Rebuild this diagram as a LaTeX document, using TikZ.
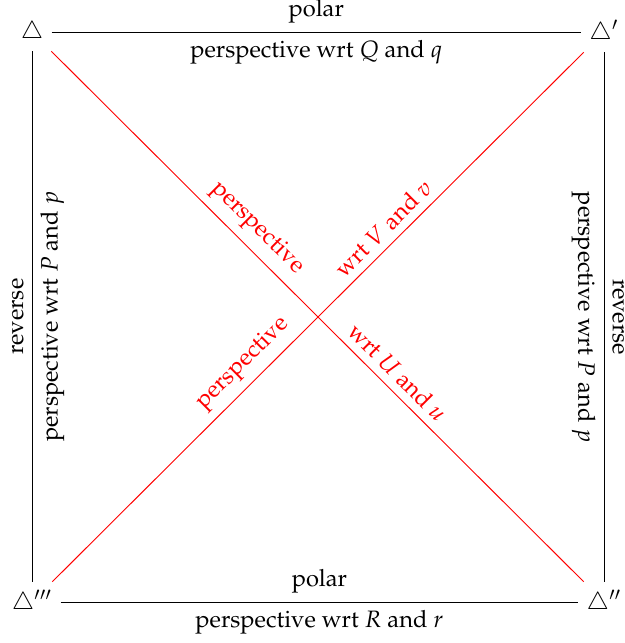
\documentclass[tikz,border=0pt]{standalone}
\usepackage[T1]{fontenc}
\usepackage{mathpazo}
\usepackage{xcolor}

\begin{document}
\begin{tikzpicture}[x=0.422pt,y=-0.422pt,
  corner/.style={inner sep=3.33pt},
  side/.style={draw=black,line width=0.4pt},
  diag/.style={draw=red,line width=0.4pt},
  lab/.style={sloped},
  rlab/.style={sloped,text=red}]
  \useasboundingbox (0,0) rectangle (625,643);
  % the four triangles
  \node[corner](t0) at (32,32){$\triangle$};
  \node[corner](t1) at (604,32){$\triangle'$};
  \node[corner](t2) at (604,602){$\triangle''$};
  \node[corner](t3) at (32,602){$\triangle'''$};
  % sides
  \draw[side](t0)--node[lab,above]{polar}node[lab,below]{perspective wrt $Q$ and $q$}(t1);
  \draw[side](t3)--node[lab,above]{polar}node[lab,below]{perspective wrt $R$ and $r$}(t2);
  \draw[side](t3)--node[lab,above]{reverse}node[lab,below]{perspective wrt $P$ and $p$}(t0);
  \draw[side](t1)--node[lab,above]{reverse}node[lab,below]{perspective wrt $P$ and $p$}(t2);
  % diagonals
  \draw[diag](t0)--node[rlab,above,pos=.36]{perspective}node[rlab,above,pos=.628]{wrt $U$ and $u$}(t2);
  \draw[diag](t3)--node[rlab,above,pos=.385]{perspective}node[rlab,above,pos=.645]{wrt $V$ and $v$}(t1);
\end{tikzpicture}
\end{document}
